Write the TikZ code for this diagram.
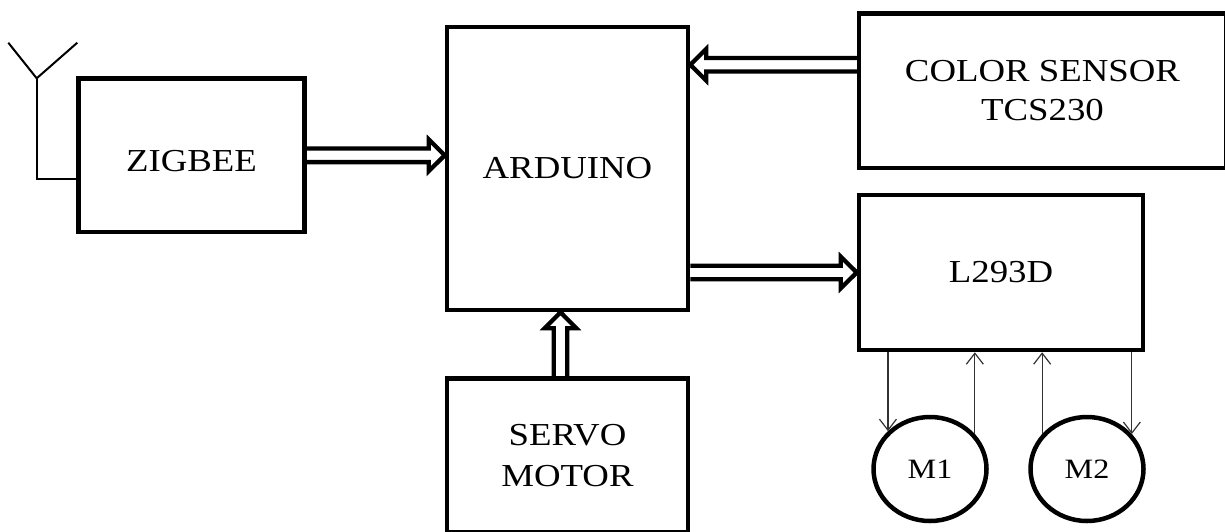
\documentclass[tikz,border=0pt]{standalone}
\usepackage{fontspec}
\setmainfont{Liberation Serif}[FakeStretch=1.15]
\usetikzlibrary{arrows.meta,calc,shapes.geometric}
\begin{document}
\begin{tikzpicture}[x=1pt,y=-1pt,
  blk/.style={draw, line width=4.5pt, inner sep=0pt, align=center, font=\fontsize{32}{40}\selectfont},
  motor/.style={draw, ellipse, line width=4.5pt, inner sep=0pt, minimum width=113pt, minimum height=104pt, font=\fontsize{28}{34}\selectfont},
  hollow/.style={draw, line width=4.3pt, line join=miter, to path={
    ($(\tikztotarget)!16pt!(\tikztostart)$) coordinate (hb)
    ($(\tikztostart)!6.8pt!90:(\tikztotarget)$) -- ($(hb)!6.8pt!90:(\tikztotarget)$)
    -- ($(hb)!15.8pt!90:(\tikztotarget)$) -- (\tikztotarget)
    -- ($(hb)!15.8pt!-90:(\tikztotarget)$) -- ($(hb)!6.8pt!-90:(\tikztotarget)$)
    -- ($(\tikztostart)!6.8pt!-90:(\tikztotarget)$)}},
  sig/.style={line width=1.2pt, black!80, -{Straight Barb[length=11pt,width=17pt]}},
  ant/.style={line width=2pt}]
\useasboundingbox (0,0) rectangle (1225,531);
\clip (0,0) rectangle (1225,531);
\node[blk, minimum width=226pt, minimum height=153.5pt, text height=32pt] (zig) at (191.5,155.3) {ZIGBEE};
\node[blk, minimum width=241pt, minimum height=283pt] (ard) at (567.5,168.5) {ARDUINO};
\node[blk, minimum width=367pt, minimum height=154.5pt, font=\fontsize{32}{38.5}\selectfont] (col) at (1042.5,90.75) {COLOR SENSOR\\TCS230};
\node[blk, minimum width=284pt, minimum height=155pt] (drv) at (1001,272.5) {L293D};
\node[blk, minimum width=241pt, minimum height=154pt, font=\fontsize{32}{41}\selectfont] (srv) at (567.5,455.5) {SERVO\\MOTOR};
\node[motor] (m1) at (930,469) {M1};
\node[motor] (m2) at (1087,469) {M2};
% hollow double arrows
\coordinate (colout) at ([yshift=26pt]col.west);
\coordinate (srvout) at ([xshift=-7pt]srv.north);
\path[hollow] (zig.east) to (zig.east -| ard.west);
\path[hollow] (colout) to (colout -| ard.east);
\path[hollow] (ard.east |- drv.west) to (drv.west);
\path[hollow] (srvout) to (srvout |- ard.south);
% antenna
\coordinate (apex) at (36.7,78.3);
\draw[ant] ([yshift=-24pt]zig.west) -| (apex);
\draw[ant] ($(apex)+(-28.4,-35.6)$) -- (apex) -- ($(apex)+(40.6,-35.6)$);
% motor lines
\draw[sig] (drv.south -| m1.138) -- (m1.138);
\draw[sig] (m1.38) -- (drv.south -| m1.38);
\draw[sig] (m2.142) -- (drv.south -| m2.142);
\draw[sig] (drv.south -| m2.38) -- (m2.38);
\end{tikzpicture}
\end{document}
